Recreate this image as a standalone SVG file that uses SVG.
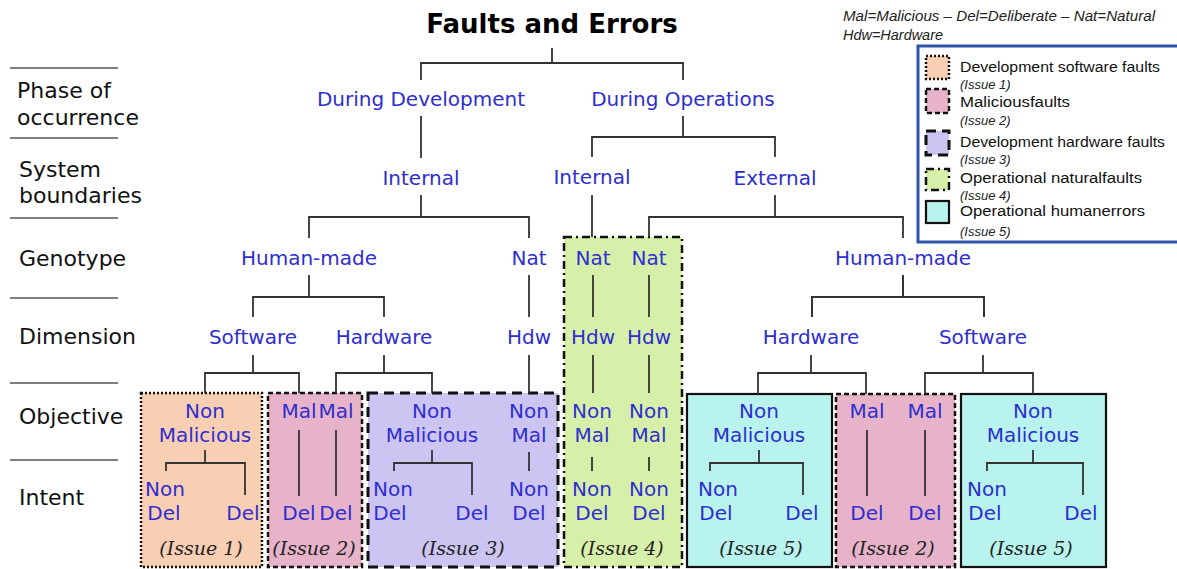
<svg xmlns="http://www.w3.org/2000/svg" width="1177" height="569" viewBox="0 0 1177 569">
<style>
.bg{fill:#ffffff}
.t{font-family:"DejaVu Sans",Verdana,sans-serif;font-size:20px;fill:#2e2ed0;text-anchor:middle}
.lab{font-family:"DejaVu Sans",Verdana,sans-serif;font-size:22px;fill:#111}
.title{font-family:"DejaVu Sans",Verdana,sans-serif;font-size:26px;font-weight:bold;fill:#000;text-anchor:middle}
.iss{font-family:"DejaVu Serif",Georgia,serif;font-style:italic;font-size:19px;fill:#222;text-anchor:middle}
.sep{stroke:#555;stroke-width:1.5}
.c{stroke:#333;stroke-width:1.8;fill:none}
.leg{font-family:"Liberation Sans",Arial,sans-serif;font-size:14px;fill:#111}
.legi{font-family:"Liberation Sans",Arial,sans-serif;font-size:13px;font-style:italic;fill:#222}
.hdr{font-family:"Liberation Sans",Arial,sans-serif;font-size:14px;font-style:italic;fill:#222}
.i1{fill:#f8cfb3;stroke:#111;stroke-width:2.5;stroke-dasharray:2 2}
.i2{fill:#e7b3c9;stroke:#111;stroke-width:2.5;stroke-dasharray:5 3}
.i3{fill:#ccc4f1;stroke:#111;stroke-width:3;stroke-dasharray:10 6}
.i4{fill:#d7f0a9;stroke:#111;stroke-width:2.5;stroke-dasharray:8 4 2 4}
.i5{fill:#b8f3ee;stroke:#111;stroke-width:2.2}
</style>
<rect class="bg" x="0" y="0" width="1177" height="569"/>

<g id="row-labels">
  <line class="sep" x1="10" y1="68" x2="118" y2="68"/>
  <line class="sep" x1="10" y1="138" x2="118" y2="138"/>
  <line class="sep" x1="10" y1="218" x2="118" y2="218"/>
  <line class="sep" x1="10" y1="298" x2="118" y2="298"/>
  <line class="sep" x1="10" y1="383" x2="118" y2="383"/>
  <line class="sep" x1="10" y1="460" x2="118" y2="460"/>
  <text class="lab" x="17" y="98">Phase of</text>
  <text class="lab" x="17" y="125">occurrence</text>
  <text class="lab" x="19" y="177">System</text>
  <text class="lab" x="19" y="203">boundaries</text>
  <text class="lab" x="19" y="266">Genotype</text>
  <text class="lab" x="19" y="344">Dimension</text>
  <text class="lab" x="19" y="424">Objective</text>
  <text class="lab" x="19" y="505">Intent</text>
</g>

<g id="legend">
  <text class="hdr" x="843" y="21" textLength="312" lengthAdjust="spacingAndGlyphs">Mal=Malicious – Del=Deliberate  – Nat=Natural</text>
  <text class="hdr" x="843" y="40" textLength="100" lengthAdjust="spacingAndGlyphs">Hdw=Hardware</text>
  <rect x="918" y="46" width="270" height="196" fill="#ffffff" stroke="#2d54a8" stroke-width="3"/>
  <rect class="i1" x="926" y="56" width="23" height="23" stroke-width="2"/>
  <text class="leg" x="960" y="72" textLength="200" lengthAdjust="spacingAndGlyphs">Development  software faults</text>
  <text class="legi" x="960" y="89">(Issue 1)</text>
  <rect class="i2" x="926" y="89" width="23" height="24" stroke-width="2"/>
  <text class="leg" x="960" y="107" textLength="110" lengthAdjust="spacingAndGlyphs">Maliciousfaults</text>
  <text class="legi" x="960" y="125">(Issue 2)</text>
  <rect class="i3" x="926" y="131" width="23" height="24" stroke-width="2" stroke-dasharray="7 5"/>
  <text class="leg" x="960" y="147" textLength="205" lengthAdjust="spacingAndGlyphs">Development  hardware faults</text>
  <text class="legi" x="960" y="164">(Issue 3)</text>
  <rect class="i4" x="926" y="169" width="23" height="21" stroke-width="2" stroke-dasharray="6 3 2 3"/>
  <text class="leg" x="960" y="183" textLength="182" lengthAdjust="spacingAndGlyphs">Operational naturalfaults</text>
  <text class="legi" x="960" y="200">(Issue 4)</text>
  <rect class="i5" x="926" y="201" width="23" height="22"/>
  <text class="leg" x="960" y="216" textLength="185" lengthAdjust="spacingAndGlyphs">Operational  humanerrors</text>
  <text class="legi" x="960" y="236">(Issue 5)</text>
</g>

<g id="box-issue1"><rect class="i1" x="141" y="393" width="121" height="174"/><text class="iss" x="201" y="555">(Issue 1)</text></g>
<g id="box-issue2a"><rect class="i2" x="268" y="393" width="94" height="174"/><text class="iss" x="314" y="555">(Issue 2)</text></g>
<g id="box-issue3"><rect class="i3" x="368" y="393" width="190" height="174"/><text class="iss" x="463" y="555">(Issue 3)</text></g>
<g id="box-issue4"><rect class="i4" x="564" y="237" width="118" height="330"/><text class="iss" x="622" y="555">(Issue 4)</text></g>
<g id="box-issue5a"><rect class="i5" x="687" y="394" width="145" height="173"/><text class="iss" x="761" y="555">(Issue 5)</text></g>
<g id="box-issue2b"><rect class="i2" x="836" y="394" width="119" height="173"/><text class="iss" x="893" y="555">(Issue 2)</text></g>
<g id="box-issue5b"><rect class="i5" x="961" y="394" width="145" height="173"/><text class="iss" x="1031" y="555">(Issue 5)</text></g>

<g id="connectors" class="c">
  <path d="M552 48V63M421 80V63H683V80"/>
  <path d="M421 116V158"/>
  <path d="M683 116V137M592 157V137H775V157"/>
  <path d="M421 195V217M309 238V217H529V238"/>
  <path d="M592 195V237"/>
  <path d="M775 195V217M649 237V217H903V238"/>
  <path d="M309 275V297M253 317V297H384V317"/>
  <path d="M529 275V317"/>
  <path d="M593 275V317M649 275V317"/>
  <path d="M903 275V297M812 317V297H984V317" stroke-width="2"/>
  <path d="M253 355V373M205 393V373H299V393"/>
  <path d="M384 355V373M336 393V373H432V393"/>
  <path d="M529 355V393"/>
  <path d="M593 355V393M649 355V393"/>
  <path d="M811 355V373M758 394V373H866V394"/>
  <path d="M983 355V373M925 394V373H1033V394"/>
  <path d="M205 450V463M166 471V463H245V495"/>
  <path d="M299 430V496M336 430V496"/>
  <path d="M432 450V463M394 471V463H472V495"/>
  <path d="M529 452V471"/>
  <path d="M592 457V471M649 457V471"/>
  <path d="M759 450V463M710 471V463H803V495"/>
  <path d="M867 430V496M925 430V496"/>
  <path d="M1033 450V463M987 471V463H1083V495"/>
</g>

<g id="n-root"><text class="title" x="552" y="33">Faults and Errors</text></g>
<g id="n-dev"><text class="t" x="421" y="106">During Development</text></g>
<g id="n-ops"><text class="t" x="683" y="106">During Operations</text></g>
<g id="n-dev-internal"><text class="t" x="421" y="185">Internal</text></g>
<g id="n-ops-internal"><text class="t" x="592" y="184">Internal</text></g>
<g id="n-ops-external"><text class="t" x="775" y="185">External</text></g>
<g id="n-dev-human"><text class="t" x="309" y="265">Human-made</text></g>
<g id="n-dev-nat"><text class="t" x="529" y="265">Nat</text></g>
<g id="n-ops-nat1"><text class="t" x="593" y="265">Nat</text></g>
<g id="n-ops-nat2"><text class="t" x="649" y="265">Nat</text></g>
<g id="n-ops-human"><text class="t" x="903" y="265">Human-made</text></g>
<g id="n-dev-sw"><text class="t" x="253" y="344">Software</text></g>
<g id="n-dev-hw"><text class="t" x="384" y="344">Hardware</text></g>
<g id="n-dev-hdw"><text class="t" x="529" y="344">Hdw</text></g>
<g id="n-ops-hdw1"><text class="t" x="593" y="344">Hdw</text></g>
<g id="n-ops-hdw2"><text class="t" x="649" y="344">Hdw</text></g>
<g id="n-ops-hw"><text class="t" x="811" y="344">Hardware</text></g>
<g id="n-ops-sw"><text class="t" x="983" y="344">Software</text></g>

<g id="o1"><text class="t" x="205" y="418">Non</text><text class="t" x="205" y="442">Malicious</text></g>
<g id="o2"><text class="t" x="299" y="418">Mal</text></g>
<g id="o3"><text class="t" x="336" y="418">Mal</text></g>
<g id="o4"><text class="t" x="432" y="418">Non</text><text class="t" x="432" y="442">Malicious</text></g>
<g id="o5"><text class="t" x="529" y="418">Non</text><text class="t" x="529" y="442">Mal</text></g>
<g id="o6"><text class="t" x="592" y="418">Non</text><text class="t" x="592" y="442">Mal</text></g>
<g id="o7"><text class="t" x="649" y="418">Non</text><text class="t" x="649" y="442">Mal</text></g>
<g id="o8"><text class="t" x="759" y="418">Non</text><text class="t" x="759" y="442">Malicious</text></g>
<g id="o9"><text class="t" x="867" y="418">Mal</text></g>
<g id="o10"><text class="t" x="925" y="418">Mal</text></g>
<g id="o11"><text class="t" x="1033" y="418">Non</text><text class="t" x="1033" y="442">Malicious</text></g>

<g id="d1"><text class="t" x="165" y="496">Non</text><text class="t" x="164" y="520">Del</text></g>
<g id="d2"><text class="t" x="243" y="520">Del</text></g>
<g id="d3"><text class="t" x="299" y="520">Del</text></g>
<g id="d4"><text class="t" x="336" y="520">Del</text></g>
<g id="d5"><text class="t" x="393" y="496">Non</text><text class="t" x="390" y="520">Del</text></g>
<g id="d6"><text class="t" x="472" y="520">Del</text></g>
<g id="d7"><text class="t" x="529" y="496">Non</text><text class="t" x="529" y="520">Del</text></g>
<g id="d8"><text class="t" x="592" y="496">Non</text><text class="t" x="592" y="520">Del</text></g>
<g id="d9"><text class="t" x="649" y="496">Non</text><text class="t" x="649" y="520">Del</text></g>
<g id="d10"><text class="t" x="718" y="496">Non</text><text class="t" x="716" y="520">Del</text></g>
<g id="d11"><text class="t" x="802" y="520">Del</text></g>
<g id="d12"><text class="t" x="867" y="520">Del</text></g>
<g id="d13"><text class="t" x="925" y="520">Del</text></g>
<g id="d14"><text class="t" x="987" y="496">Non</text><text class="t" x="985" y="520">Del</text></g>
<g id="d15"><text class="t" x="1081" y="520">Del</text></g>
</svg>
